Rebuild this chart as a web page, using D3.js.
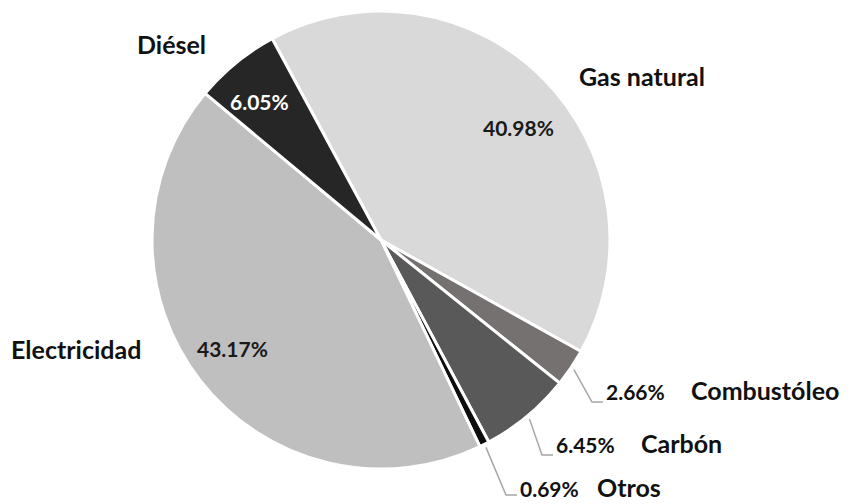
<!DOCTYPE html>
<html>
<head>
<meta charset="utf-8">
<script src="https://cdn.jsdelivr.net/npm/d3@7"></script>
<style>
  html, body { margin: 0; padding: 0; background: #fff; }
  svg text { font-family: Lato, "Open Sans", sans-serif; font-weight: bold; }
</style>
</head>
<body>
<svg id="chart" width="855" height="504"></svg>
<script>
// ---- data ----
const categories = ["Gas natural", "Combustóleo", "Carbón", "Otros", "Electricidad", "Diésel"];
const values = [40.98, 2.66, 6.45, 0.69, 43.17, 6.05];
const percentLabels = ["40.98%", "2.66%", "6.45%", "0.69%", "43.17%", "6.05%"];
const colors = ["#d9d9d9", "#767171", "#595959", "#0d0d0d", "#bfbfbf", "#262626"];

// ---- layout ----
const W = 855, H = 504;
const cx = 381, cy = 240, R = 229;
const startAngle = -28.4 * Math.PI / 180;

const svg = d3.select("#chart");
const g = svg.append("g").attr("transform", `translate(${cx},${cy})`);

const pie = d3.pie().sort(null).value(d => d.v)
  .startAngle(startAngle).endAngle(startAngle + 2 * Math.PI);
const data = categories.map((c, i) => ({ c, v: values[i], p: percentLabels[i], col: colors[i] }));
const arcs = pie(data);
const arc = d3.arc().innerRadius(0).outerRadius(R);

g.selectAll("path.slice").data(arcs).enter().append("path")
  .attr("class", "slice")
  .attr("d", arc)
  .attr("fill", d => d.data.col)
  .attr("stroke", "#fff")
  .attr("stroke-width", 3)
  .attr("stroke-linejoin", "round");

// label placement (layout, not data): inside percentages and outside names
const insideLayout = {
  "Gas natural": { px: 483, py: 136, fill: "#1a1a1a", nx: 579, ny: 86 },
  "Electricidad": { px: 197, py: 357, fill: "#1a1a1a", nx: 11, ny: 359 },
  "Diésel": { px: 230, py: 110, fill: "#ffffff", nx: 137, ny: 54 }
};
const outsideLayout = {
  "Combustóleo": { px: 606, py: 400, nx: 691, elbowY: 402 },
  "Carbón": { px: 556, py: 453, nx: 641, elbowY: 455 },
  "Otros": { px: 520, py: 497, nx: 597, elbowY: 495 }
};

const fsPct = 21, fsName = 25;
const outerPt = d3.arc().innerRadius(R * 1.015).outerRadius(R * 1.015);

arcs.forEach(a => {
  const name = a.data.c;
  if (insideLayout[name]) {
    const L = insideLayout[name];
    svg.append("text").attr("x", L.px).attr("y", L.py)
      .attr("font-size", fsPct).attr("fill", L.fill).text(a.data.p);
    svg.append("text").attr("x", L.nx).attr("y", L.ny)
      .attr("font-size", fsName).attr("fill", "#111").text(name);
  } else if (outsideLayout[name]) {
    const L = outsideLayout[name];
    const [ox, oy] = outerPt.centroid(a);
    const sx = cx + ox, sy = cy + oy;
    const line = d3.line();
    svg.append("path")
      .attr("d", line([[sx, sy], [L.px - 14, L.elbowY], [L.px - 3, L.elbowY]]))
      .attr("fill", "none").attr("stroke", "#a6a6a6").attr("stroke-width", 1.5);
    svg.append("text").attr("x", L.px).attr("y", L.py)
      .attr("font-size", fsPct).attr("fill", "#111").text(a.data.p);
    svg.append("text").attr("x", L.nx).attr("y", L.py)
      .attr("font-size", fsName).attr("fill", "#111").text(name);
  }
});
</script>
</body>
</html>
